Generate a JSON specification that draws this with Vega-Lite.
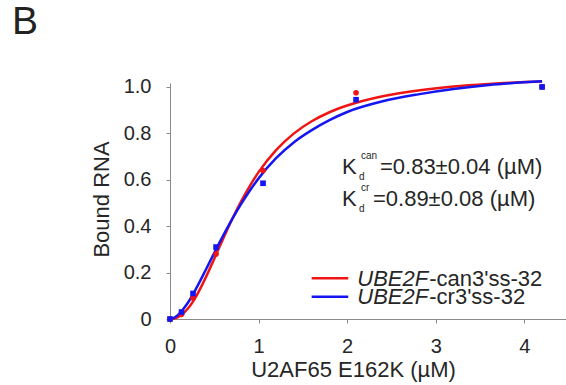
{
  "$schema": "https://vega.github.io/schema/vega-lite/v6.json",
  "width": 396,
  "height": 236,
  "autosize": "none",
  "padding": {"left": 170, "top": 83, "right": 0, "bottom": 66},
  "background": "white",
  "config": {
    "view": {"stroke": null},
    "font": "Liberation Sans",
    "axis": {
      "grid": false,
      "domainColor": "#8a8a8a",
      "tickColor": "#8a8a8a",
      "domainWidth": 1,
      "tickWidth": 1,
      "tickSize": 4,
      "labelColor": "#262626",
      "titleColor": "#262626",
      "labelFont": "Liberation Sans",
      "titleFont": "Liberation Sans",
      "labelFontSize": 20,
      "titleFontSize": 22,
      "titleFontWeight": "normal",
      "labelFlush": false,
      "labelOverlap": false
    }
  },
  "title": {
    "text": "B",
    "anchor": "start",
    "frame": "group",
    "dx": -158,
    "offset": 3,
    "baseline": "alphabetic",
    "fontSize": 39,
    "fontWeight": "normal",
    "color": "#222222",
    "font": "Liberation Sans"
  },
  "datasets": {
    "curves": [
      {"series": "UBE2F-can3'ss-32", "conc": 0, "bound": 0},
      {"series": "UBE2F-can3'ss-32", "conc": 0.05, "bound": 0.002},
      {"series": "UBE2F-can3'ss-32", "conc": 0.1, "bound": 0.010},
      {"series": "UBE2F-can3'ss-32", "conc": 0.15, "bound": 0.024},
      {"series": "UBE2F-can3'ss-32", "conc": 0.2, "bound": 0.044},
      {"series": "UBE2F-can3'ss-32", "conc": 0.3, "bound": 0.101},
      {"series": "UBE2F-can3'ss-32", "conc": 0.4, "bound": 0.176},
      {"series": "UBE2F-can3'ss-32", "conc": 0.5, "bound": 0.260},
      {"series": "UBE2F-can3'ss-32", "conc": 0.6, "bound": 0.346},
      {"series": "UBE2F-can3'ss-32", "conc": 0.7, "bound": 0.429},
      {"series": "UBE2F-can3'ss-32", "conc": 0.8, "bound": 0.505},
      {"series": "UBE2F-can3'ss-32", "conc": 0.9, "bound": 0.573},
      {"series": "UBE2F-can3'ss-32", "conc": 1.0, "bound": 0.633},
      {"series": "UBE2F-can3'ss-32", "conc": 1.2, "bound": 0.729},
      {"series": "UBE2F-can3'ss-32", "conc": 1.4, "bound": 0.800},
      {"series": "UBE2F-can3'ss-32", "conc": 1.6, "bound": 0.852},
      {"series": "UBE2F-can3'ss-32", "conc": 1.8, "bound": 0.891},
      {"series": "UBE2F-can3'ss-32", "conc": 2.0, "bound": 0.920},
      {"series": "UBE2F-can3'ss-32", "conc": 2.4, "bound": 0.960},
      {"series": "UBE2F-can3'ss-32", "conc": 2.8, "bound": 0.985},
      {"series": "UBE2F-can3'ss-32", "conc": 3.2, "bound": 1.002},
      {"series": "UBE2F-can3'ss-32", "conc": 3.6, "bound": 1.013},
      {"series": "UBE2F-can3'ss-32", "conc": 4.0, "bound": 1.021},
      {"series": "UBE2F-can3'ss-32", "conc": 4.2, "bound": 1.024},
      {"series": "UBE2F-cr3'ss-32", "conc": 0, "bound": 0},
      {"series": "UBE2F-cr3'ss-32", "conc": 0.05, "bound": 0.006},
      {"series": "UBE2F-cr3'ss-32", "conc": 0.1, "bound": 0.021},
      {"series": "UBE2F-cr3'ss-32", "conc": 0.15, "bound": 0.043},
      {"series": "UBE2F-cr3'ss-32", "conc": 0.2, "bound": 0.069},
      {"series": "UBE2F-cr3'ss-32", "conc": 0.3, "bound": 0.135},
      {"series": "UBE2F-cr3'ss-32", "conc": 0.4, "bound": 0.209},
      {"series": "UBE2F-cr3'ss-32", "conc": 0.5, "bound": 0.285},
      {"series": "UBE2F-cr3'ss-32", "conc": 0.6, "bound": 0.359},
      {"series": "UBE2F-cr3'ss-32", "conc": 0.7, "bound": 0.429},
      {"series": "UBE2F-cr3'ss-32", "conc": 0.8, "bound": 0.494},
      {"series": "UBE2F-cr3'ss-32", "conc": 0.9, "bound": 0.553},
      {"series": "UBE2F-cr3'ss-32", "conc": 1.0, "bound": 0.606},
      {"series": "UBE2F-cr3'ss-32", "conc": 1.2, "bound": 0.694},
      {"series": "UBE2F-cr3'ss-32", "conc": 1.4, "bound": 0.762},
      {"series": "UBE2F-cr3'ss-32", "conc": 1.6, "bound": 0.814},
      {"series": "UBE2F-cr3'ss-32", "conc": 1.8, "bound": 0.857},
      {"series": "UBE2F-cr3'ss-32", "conc": 2.0, "bound": 0.892},
      {"series": "UBE2F-cr3'ss-32", "conc": 2.4, "bound": 0.938},
      {"series": "UBE2F-cr3'ss-32", "conc": 2.8, "bound": 0.968},
      {"series": "UBE2F-cr3'ss-32", "conc": 3.2, "bound": 0.991},
      {"series": "UBE2F-cr3'ss-32", "conc": 3.6, "bound": 1.008},
      {"series": "UBE2F-cr3'ss-32", "conc": 4.0, "bound": 1.020},
      {"series": "UBE2F-cr3'ss-32", "conc": 4.2, "bound": 1.025}
    ],
    "points": [
      {"series": "UBE2F-can3'ss-32", "conc": 0, "bound": 0},
      {"series": "UBE2F-can3'ss-32", "conc": 0.13, "bound": 0.02},
      {"series": "UBE2F-can3'ss-32", "conc": 0.26, "bound": 0.09},
      {"series": "UBE2F-can3'ss-32", "conc": 0.52, "bound": 0.28},
      {"series": "UBE2F-can3'ss-32", "conc": 1.05, "bound": 0.64},
      {"series": "UBE2F-can3'ss-32", "conc": 2.1, "bound": 0.975},
      {"series": "UBE2F-can3'ss-32", "conc": 4.2, "bound": 1.0},
      {"series": "UBE2F-cr3'ss-32", "conc": 0, "bound": 0},
      {"series": "UBE2F-cr3'ss-32", "conc": 0.13, "bound": 0.03},
      {"series": "UBE2F-cr3'ss-32", "conc": 0.26, "bound": 0.11},
      {"series": "UBE2F-cr3'ss-32", "conc": 0.52, "bound": 0.31},
      {"series": "UBE2F-cr3'ss-32", "conc": 1.05, "bound": 0.585},
      {"series": "UBE2F-cr3'ss-32", "conc": 2.1, "bound": 0.945},
      {"series": "UBE2F-cr3'ss-32", "conc": 4.2, "bound": 1.0}
    ]
  },
  "layer": [
    {
      "data": {"name": "curves"},
      "mark": {"type": "line", "strokeWidth": 2.5, "interpolate": "monotone"},
      "encoding": {
        "x": {
          "field": "conc", "type": "quantitative",
          "scale": {"domain": [0, 4.47], "nice": false, "zero": true},
          "axis": {
            "values": [0, 1, 2, 3, 4],
            "format": "d",
            "labelPadding": 13,
            "title": "U2AF65 E162K (µM)",
            "titleX": 183,
            "titleY": 57,
            "titleBaseline": "alphabetic",
            "titleAlign": "center"
          }
        },
        "y": {
          "field": "bound", "type": "quantitative",
          "scale": {"domain": [0, 1.017], "nice": false, "zero": true},
          "axis": {
            "values": [0, 0.2, 0.4, 0.6, 0.8, 1.0],
            "labelExpr": "datum.value == 0 ? '0' : format(datum.value, '.1f')",
            "labelPadding": 15,
            "title": "Bound RNA",
            "titleX": -62,
            "titleY": 116,
            "titleAngle": -90,
            "titleBaseline": "alphabetic",
            "titleAlign": "center"
          }
        },
        "color": {
          "field": "series", "type": "nominal",
          "scale": {"domain": ["UBE2F-can3'ss-32", "UBE2F-cr3'ss-32"], "range": ["#f01515", "#1515f0"]},
          "legend": null
        }
      }
    },
    {
      "data": {"name": "points"},
      "mark": {"type": "point", "filled": true, "size": 32, "opacity": 1},
      "encoding": {
        "x": {"field": "conc", "type": "quantitative"},
        "y": {"field": "bound", "type": "quantitative"},
        "color": {"field": "series", "type": "nominal", "legend": null},
        "shape": {
          "field": "series", "type": "nominal",
          "scale": {"domain": ["UBE2F-can3'ss-32", "UBE2F-cr3'ss-32"], "range": ["circle", "square"]},
          "legend": null
        }
      }
    },
    {
      "data": {"values": [{}]},
      "mark": {"type": "rule", "strokeWidth": 2.5},
      "encoding": {
        "x": {"datum": 1.599, "type": "quantitative"},
        "x2": {"datum": 2.012},
        "y": {"datum": 0.1754, "type": "quantitative"},
        "color": {"datum": "UBE2F-can3'ss-32", "type": "nominal"}
      }
    },
    {
      "data": {"values": [{}]},
      "mark": {"type": "rule", "strokeWidth": 2.5},
      "encoding": {
        "x": {"datum": 1.599, "type": "quantitative"},
        "x2": {"datum": 2.012},
        "y": {"datum": 0.0961, "type": "quantitative"},
        "color": {"datum": "UBE2F-cr3'ss-32", "type": "nominal"}
      }
    },
    {
      "data": {"values": [{}]},
      "mark": {"type": "text", "text": "UBE2F", "fontStyle": "italic", "fontSize": 22, "align": "left", "baseline": "alphabetic", "color": "#262626"},
      "encoding": {
        "x": {"datum": 2.114, "type": "quantitative"},
        "y": {"datum": 0.1422, "type": "quantitative"}
      }
    },
    {
      "data": {"values": [{}]},
      "mark": {"type": "text", "text": "-can3'ss-32", "fontSize": 22, "align": "left", "baseline": "alphabetic", "dx": 72, "color": "#262626"},
      "encoding": {
        "x": {"datum": 2.114, "type": "quantitative"},
        "y": {"datum": 0.1422, "type": "quantitative"}
      }
    },
    {
      "data": {"values": [{}]},
      "mark": {"type": "text", "text": "UBE2F", "fontStyle": "italic", "fontSize": 22, "align": "left", "baseline": "alphabetic", "color": "#262626"},
      "encoding": {
        "x": {"datum": 2.114, "type": "quantitative"},
        "y": {"datum": 0.0625, "type": "quantitative"}
      }
    },
    {
      "data": {"values": [{}]},
      "mark": {"type": "text", "text": "-cr3'ss-32", "fontSize": 22, "align": "left", "baseline": "alphabetic", "dx": 72, "color": "#262626"},
      "encoding": {
        "x": {"datum": 2.114, "type": "quantitative"},
        "y": {"datum": 0.0625, "type": "quantitative"}
      }
    },
    {
      "data": {"values": [{}]},
      "mark": {"type": "text", "text": "K", "fontSize": 22, "align": "left", "baseline": "alphabetic", "color": "#262626"},
      "encoding": {
        "x": {"datum": 1.941, "type": "quantitative"},
        "y": {"datum": 0.6247, "type": "quantitative"}
      }
    },
    {
      "data": {"values": [{}]},
      "mark": {"type": "text", "text": "d", "fontSize": 10, "align": "left", "baseline": "alphabetic", "dx": 17, "dy": 6, "color": "#262626"},
      "encoding": {
        "x": {"datum": 1.941, "type": "quantitative"},
        "y": {"datum": 0.6247, "type": "quantitative"}
      }
    },
    {
      "data": {"values": [{}]},
      "mark": {"type": "text", "text": "can", "fontSize": 10, "align": "left", "baseline": "alphabetic", "dx": 19, "dy": -15, "color": "#262626"},
      "encoding": {
        "x": {"datum": 1.941, "type": "quantitative"},
        "y": {"datum": 0.6247, "type": "quantitative"}
      }
    },
    {
      "data": {"values": [{}]},
      "mark": {"type": "text", "text": "=0.83±0.04 (µM)", "fontSize": 22, "align": "left", "baseline": "alphabetic", "dx": 38, "color": "#262626"},
      "encoding": {
        "x": {"datum": 1.941, "type": "quantitative"},
        "y": {"datum": 0.6247, "type": "quantitative"}
      }
    },
    {
      "data": {"values": [{}]},
      "mark": {"type": "text", "text": "K", "fontSize": 22, "align": "left", "baseline": "alphabetic", "color": "#262626"},
      "encoding": {
        "x": {"datum": 1.941, "type": "quantitative"},
        "y": {"datum": 0.489, "type": "quantitative"}
      }
    },
    {
      "data": {"values": [{}]},
      "mark": {"type": "text", "text": "d", "fontSize": 10, "align": "left", "baseline": "alphabetic", "dx": 17, "dy": 6, "color": "#262626"},
      "encoding": {
        "x": {"datum": 1.941, "type": "quantitative"},
        "y": {"datum": 0.489, "type": "quantitative"}
      }
    },
    {
      "data": {"values": [{}]},
      "mark": {"type": "text", "text": "cr", "fontSize": 10, "align": "left", "baseline": "alphabetic", "dx": 19, "dy": -15, "color": "#262626"},
      "encoding": {
        "x": {"datum": 1.941, "type": "quantitative"},
        "y": {"datum": 0.489, "type": "quantitative"}
      }
    },
    {
      "data": {"values": [{}]},
      "mark": {"type": "text", "text": "=0.89±0.08 (µM)", "fontSize": 22, "align": "left", "baseline": "alphabetic", "dx": 31, "color": "#262626"},
      "encoding": {
        "x": {"datum": 1.941, "type": "quantitative"},
        "y": {"datum": 0.489, "type": "quantitative"}
      }
    }
  ]
}
